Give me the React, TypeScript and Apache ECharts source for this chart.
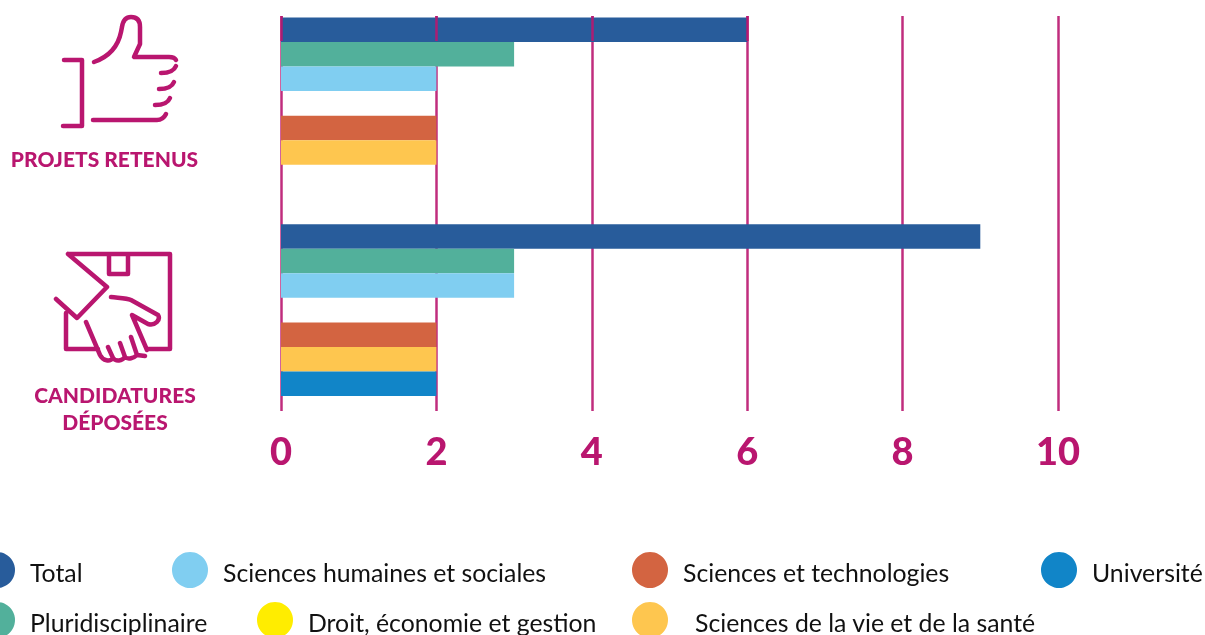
import React, { useEffect, useRef } from "react";
import * as echarts from "echarts";

const categories = ["CANDIDATURES DÉPOSÉES", "PROJETS RETENUS"];
const seriesNames = [
  "Total",
  "Pluridisciplinaire",
  "Sciences humaines et sociales",
  "Droit, économie et gestion",
  "Sciences et technologies",
  "Sciences de la vie et de la santé",
  "Université",
];
const seriesColors = ["#285C9B", "#52B09B", "#80CEF1", "#FFED00", "#D36441", "#FEC64F", "#1185C8"];
const candidatures = [9, 3, 3, 0, 2, 2, 2];
const projets = [6, 3, 2, 0, 2, 2, 0];
const legendSpots: [number, number, number][] = [
  [0, -21, 552],
  [2, 172, 552],
  [4, 632, 552],
  [6, 1041, 552],
  [1, -21, 602],
  [3, 257, 602],
  [5, 632, 602],
];

const MAGENTA = "#B9166F";
const FONT = "Lato, Carlito, Calibri, sans-serif";

const thumbPath =
  "M94 62 C108 57 118 47 121 32 L122 27 C123 20 126 17 131 17 C137 17 140 20 140 27 L140 44 L134 57 L169 57 C172 57 175 58 176 60 " +
  "M161 73 C169 73 174 71 176 66 M159 89 C167 89 172 87 174 82 M155 105 C163 105 168 103 170 98 " +
  "M93 120 L157 120 C161 120 164 118 166 114 M64 60 L82 60 L82 126 L63 126";
const boxPath =
  "M68 254 L170 254 L170 349 L148 349 M109 254 L109 274 L128 274 L128 254 " +
  "M68 254 L107 287 L77 318 L56 299 M66 313 L66 349 L98 349 " +
  "M111 297 C120 298 127 298 131 300 L158 315 C161 320 155 326 148 324 L132 315 L147 350 " +
  "M86 322 L100 355 C103 361 110 362 113 358 L108 347 M113 358 C116 362 122 361 125 357 L120 343 M125 357 C128 360 134 358 137 355 L131 337 M137 355 L145 356";

echarts.graphic.registerShape("thumbIcon", echarts.graphic.extendPath(thumbPath, {}) as any);
echarts.graphic.registerShape("boxIcon", echarts.graphic.extendPath(boxPath, {}) as any);

export default function App() {
  const ref = useRef<HTMLDivElement>(null);
  useEffect(() => {
    const chart = echarts.init(ref.current!, null, { renderer: "svg" });
    const iconStyle = { fill: "none", stroke: MAGENTA, lineWidth: 4.5, lineCap: "round", lineJoin: "round" };
    const lineStyle = { color: MAGENTA, width: 2.5, opacity: 0.9 };
    chart.setOption({
      animation: false,
      grid: [
        { left: 281, width: 777, top: -2.5, height: 416 },
        { left: 281, width: 777, top: 16, height: 395 },
        { left: 281, width: 466.2, top: 16, height: 25 },
      ],
      xAxis: [
        { gridIndex: 0, type: "value", min: 0, max: 10, show: false },
        {
          gridIndex: 1,
          type: "value",
          min: 0,
          max: 10,
          interval: 2,
          z: 1,
          axisLine: { show: false },
          axisTick: { show: false },
          splitLine: { show: true, lineStyle },
          axisLabel: {
            color: MAGENTA,
            fontFamily: FONT,
            fontWeight: 900,
            fontSize: 38,
            margin: 20,
          },
        },
        {
          // The lines run over the upper Total bar only, as in the source.
          gridIndex: 2,
          type: "value",
          min: 0,
          max: 6,
          interval: 2,
          z: 6,
          axisLine: { show: false },
          axisTick: { show: false },
          axisLabel: { show: false },
          splitLine: { show: true, lineStyle },
        },
      ],
      yAxis: [
        { gridIndex: 0, type: "category", data: categories, show: false },
        { gridIndex: 1, type: "value", show: false, min: 0, max: 1 },
        { gridIndex: 2, type: "value", show: false, min: 0, max: 1 },
      ],
      legend: legendSpots.map(([i, left, top]) => ({
        data: [seriesNames[i]],
        left,
        top,
        icon: "circle",
        itemWidth: 36,
        itemHeight: 36,
        selectedMode: false,
        padding: 0,
        formatter: "{t|{name}}",
        textStyle: {
          color: "#111111",
          fontFamily: FONT,
          fontSize: 24.8,
          rich: {
            t: {
              color: "#111111",
              fontFamily: FONT,
              fontSize: 24.8,
              padding: [4, 0, 0, i === 5 ? 22 : 10],
            },
          },
        },
      })),
      series: seriesNames.map((name, i) => ({
        name,
        type: "bar",
        xAxisIndex: 0,
        yAxisIndex: 0,
        barWidth: 24.57,
        barGap: "0%",
        z: 4,
        itemStyle: { color: seriesColors[i] },
        data: [candidatures[i], projets[i]],
      })),
      graphic: [
        { type: "thumbIcon", x: 0, y: 0, style: iconStyle, z: 10 },
        { type: "boxIcon", x: 0, y: 0, style: iconStyle, z: 10 },
        {
          type: "text",
          x: 104.5,
          y: 158,
          style: {
            text: "PROJETS RETENUS",
            fill: MAGENTA,
            font: `900 21px ${FONT}`,
            textAlign: "center",
            textVerticalAlign: "middle",
          },
        },
        {
          type: "text",
          x: 115,
          y: 407.5,
          style: {
            text: "CANDIDATURES\nDÉPOSÉES",
            fill: MAGENTA,
            font: `900 21px ${FONT}`,
            lineHeight: 27,
            textAlign: "center",
            textVerticalAlign: "middle",
          },
        },
      ],
    });
    return () => chart.dispose();
  }, []);
  return <div ref={ref} style={{ position: "fixed", left: 0, top: 0, width: 1205, height: 635 }} />;
}
